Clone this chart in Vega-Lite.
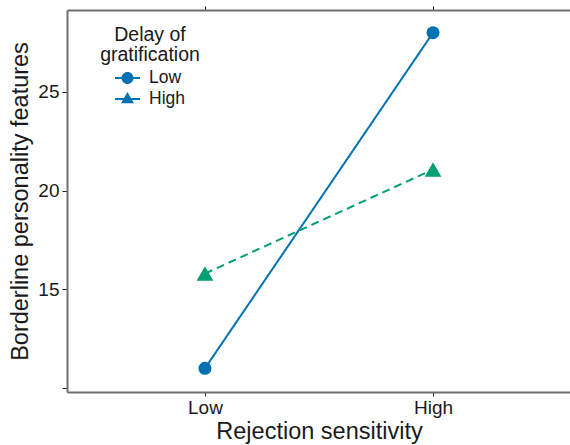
{
  "$schema": "https://vega.github.io/schema/vega-lite/v6.json",
  "autosize": "none",
  "width": 504,
  "height": 382,
  "padding": {"left": 67, "top": 10, "right": 0, "bottom": 53},
  "background": "white",
  "config": {
    "view": {"stroke": null},
    "font": "Liberation Sans",
    "axis": {
      "domainColor": "#6e6e6e",
      "domainWidth": 2,
      "tickColor": "#222222",
      "tickWidth": 1,
      "tickSize": 5,
      "grid": false,
      "labelColor": "#1a1a1a",
      "labelFont": "Liberation Sans",
      "labelFontSize": 19,
      "labelFontWeight": "normal",
      "titleColor": "#1a1a1a",
      "titleFont": "Liberation Sans",
      "titleFontSize": 23.5,
      "titleFontWeight": "normal"
    }
  },
  "data": {
    "values": [
      {"RS": "Low", "DG": "Low", "y": 11},
      {"RS": "High", "DG": "Low", "y": 28},
      {"RS": "Low", "DG": "High", "y": 15.8},
      {"RS": "High", "DG": "High", "y": 21.07}
    ]
  },
  "resolve": {"scale": {"shape": "independent"}, "legend": {"shape": "independent"}},
  "encoding": {
    "x": {
      "field": "RS",
      "type": "ordinal",
      "sort": ["Low", "High"],
      "scale": {"type": "point", "domain": ["Low", "High"], "padding": 0.605},
      "axis": null
    },
    "y": {
      "field": "y",
      "type": "quantitative",
      "scale": {"domain": [9.8, 29.15], "nice": false, "zero": false},
      "axis": {
        "title": "Borderline personality features",
        "values": [10, 15, 20, 25],
        "labelExpr": "datum.value == 10 ? '' : datum.label",
        "labelPadding": 3,
        "titlePadding": 5
      }
    },
    "color": {
      "field": "DG",
      "type": "nominal",
      "scale": {"domain": ["Low", "High"], "range": ["#0072B2", "#009E73"]},
      "legend": null
    }
  },
  "layer": [
    {
      "mark": {"type": "line", "strokeWidth": 2},
      "encoding": {
        "x": {
          "field": "RS",
          "type": "ordinal",
          "sort": ["Low", "High"],
          "axis": {"orient": "bottom", "title": "Rejection sensitivity", "labelAngle": 0, "labelPadding": 2, "titlePadding": 2, "tickSize": 4}
        },
        "strokeDash": {
          "field": "DG",
          "type": "nominal",
          "scale": {"domain": ["Low", "High"], "range": [[1, 0], [8, 5]]},
          "legend": null
        }
      }
    },
    {
      "mark": {"type": "point", "filled": true, "opacity": 1},
      "encoding": {
        "x": {
          "field": "RS",
          "type": "ordinal",
          "sort": ["Low", "High"],
          "axis": {"orient": "top", "labels": false, "title": null, "tickSize": 4}
        },
        "shape": {
          "field": "DG",
          "type": "nominal",
          "scale": {"domain": ["Low", "High"], "range": ["circle", "triangle-up"]},
          "legend": null
        },
        "size": {
          "field": "DG",
          "type": "nominal",
          "scale": {"domain": ["Low", "High"], "range": [170, 280]},
          "legend": null
        }
      }
    },
    {
      "transform": [{"filter": "datum.y < 0"}],
      "mark": {"type": "point", "filled": true, "opacity": 1},
      "encoding": {
        "shape": {
          "field": "DG",
          "type": "nominal",
          "scale": {
            "domain": ["Low", "High"],
            "range": [
              "M-1,-0.08H1V0.08H-1ZM0.48,0A0.48,0.48 0 1,1 -0.48,0A0.48,0.48 0 1,1 0.48,0Z",
              "M-1,-0.08H1V0.08H-1ZM0,-0.56L0.52,0.34L-0.52,0.34Z"
            ]
          },
          "legend": {
            "title": ["Delay of", "gratification"],
            "orient": "none",
            "legendX": 33,
            "legendY": 16,
            "titleFontSize": 19.5,
            "titleFontWeight": "normal",
            "titleColor": "#1a1a1a",
            "titleFont": "Liberation Sans",
            "titleAnchor": "middle",
            "titleAlign": "center",
            "titleLineHeight": 20,
            "titlePadding": 0,
            "labelFontSize": 17.5,
            "labelColor": "#1a1a1a",
            "labelFont": "Liberation Sans",
            "labelOffset": 9,
            "symbolSize": 625,
            "symbolStrokeWidth": 0,
            "symbolFillColor": "#0072B2",
            "rowPadding": -12.5,
            "encode": {
              "symbols": {
                "update": {
                  "fill": {"signal": "datum.value === 'Low' ? '#0072B2' : '#009E73'"},
                  "opacity": {"value": 1}
                }
              }
            }
          }
        }
      }
    }
  ]
}
